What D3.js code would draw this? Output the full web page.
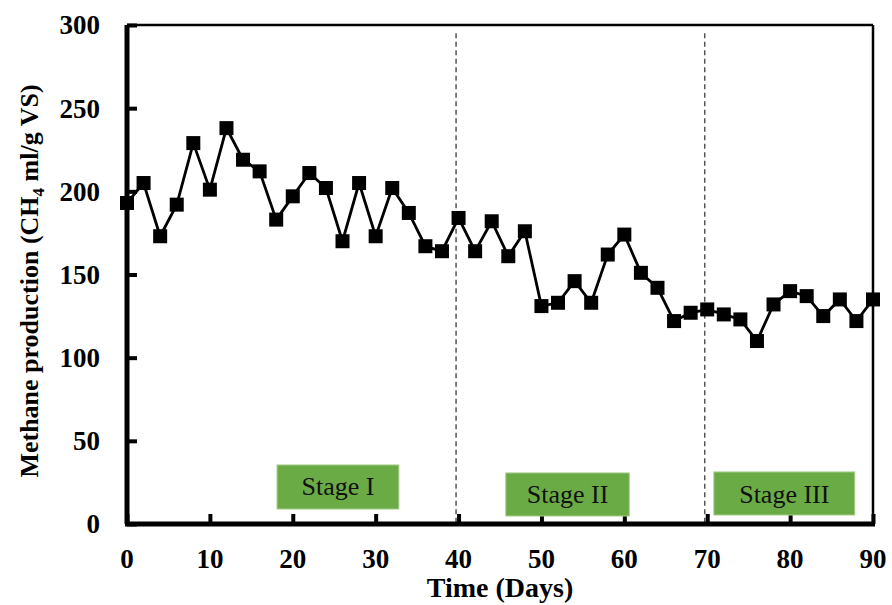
<!DOCTYPE html>
<html>
<head>
<meta charset="utf-8">
<script src="https://cdn.jsdelivr.net/npm/d3@7"></script>
<style>
  html, body { margin: 0; padding: 0; background: #fff; }
  svg { display: block; }
  text { font-family: "Liberation Serif", "Times New Roman", serif; }
</style>
</head>
<body>
<svg id="chart" width="892" height="605"></svg>
<script>
// ---- Data ----
const days = [0,2,4,6,8,10,12,14,16,18,20,22,24,26,28,30,32,34,36,38,40,42,44,46,48,50,52,54,56,58,60,62,64,66,68,70,72,74,76,78,80,82,84,86,88,90];
const methane = [193,205,173,192,229,201,238,219,212,183,197,211,202,170,205,173,202,187,167,164,184,164,182,161,176,131,133,146,133,162,174,151,142,122,127,129,126,123,110,132,140,137,125,135,122,135];
const xTicks = [0,10,20,30,40,50,60,70,80,90];
const yTicks = [0,50,100,150,200,250,300];
const stageNames = ["Stage I", "Stage II", "Stage III"];
const stageBoundaries = [39.7, 69.7];

// ---- Layout ----
const svg = d3.select("#chart");
const x = d3.scaleLinear().domain([0, 90]).range([127, 873]);
const y = d3.scaleLinear().domain([0, 300]).range([524, 25]);
const font = '"Liberation Serif", "Times New Roman", serif';

// frame: top and right thin borders
svg.append("line").attr("x1", x(0)).attr("x2", x(90)).attr("y1", y(300)).attr("y2", y(300))
  .attr("stroke", "#000").attr("stroke-width", 2.5);
svg.append("line").attr("x1", x(90)).attr("x2", x(90)).attr("y1", y(300)).attr("y2", y(0))
  .attr("stroke", "#000").attr("stroke-width", 2.5);

// stage boundary dashed lines
svg.selectAll("line.stage").data(stageBoundaries).enter().append("line")
  .attr("class", "stage")
  .attr("x1", d => x(d)).attr("x2", d => x(d))
  .attr("y1", y(295)).attr("y2", y(0))
  .attr("stroke", "#555").attr("stroke-width", 1.5).attr("stroke-dasharray", "5,3.5");

// Y axis (ticks inward)
const yAxis = d3.axisRight(y).tickValues(yTicks).tickSize(10).tickFormat("");
const gy = svg.append("g").attr("transform", `translate(${x(0)},0)`).call(yAxis);
gy.select(".domain").attr("stroke", "#000").attr("stroke-width", 5).attr("d", `M0,${y(300)}V${y(0)}`);
gy.selectAll(".tick line").attr("stroke", "#000").attr("stroke-width", 4);

svg.selectAll("text.ylab").data(yTicks).enter().append("text")
  .attr("class", "ylab")
  .attr("x", 100).attr("y", d => y(d)).attr("dy", "0.35em")
  .attr("text-anchor", "end")
  .attr("font-size", 27).attr("font-weight", "bold")
  .text(d => d);

// X axis (ticks inward/up)
const xAxis = d3.axisTop(x).tickValues(xTicks).tickSize(10).tickFormat("");
const gx = svg.append("g").attr("transform", `translate(0,${y(0)})`).call(xAxis);
gx.select(".domain").attr("stroke", "#000").attr("stroke-width", 5).attr("d", `M${x(0)-2},0H${x(90)+2}`);
gx.selectAll(".tick line").attr("stroke", "#000").attr("stroke-width", 4);

svg.selectAll("text.xlab").data(xTicks).enter().append("text")
  .attr("class", "xlab")
  .attr("x", d => x(d)).attr("y", 568)
  .attr("text-anchor", "middle")
  .attr("font-size", 27).attr("font-weight", "bold")
  .text(d => d);

// Axis titles
svg.append("text").attr("x", (x(0) + x(90)) / 2 + 0).attr("y", 597)
  .attr("text-anchor", "middle").attr("font-size", 28).attr("font-weight", "bold")
  .text("Time (Days)");

const yt = svg.append("text")
  .attr("transform", "translate(38,281) rotate(-90)")
  .attr("text-anchor", "middle").attr("font-size", 26).attr("font-weight", "bold");
yt.append("tspan").text("Methane production (CH");
yt.append("tspan").attr("font-size", 17).attr("dy", 6).text("4");
yt.append("tspan").attr("dy", -6).text(" ml/g VS)");

// Stage label boxes (positions in data units)
const stageBoxes = [
  { x0: 18.1, x1: 32.8, y0: 9.0, y1: 35.5, ty: 17.3 },
  { x0: 45.7, x1: 60.6, y0: 4.8, y1: 30.7, ty: 12.6 },
  { x0: 70.8, x1: 87.8, y0: 5.4, y1: 31.3, ty: 12.6 }
];
const sb = svg.selectAll("g.stagebox").data(stageBoxes).enter().append("g").attr("class", "stagebox");
sb.append("rect")
  .attr("x", d => x(d.x0)).attr("y", d => y(d.y1))
  .attr("width", d => x(d.x1) - x(d.x0)).attr("height", d => y(d.y0) - y(d.y1))
  .attr("fill", "#6aab46").attr("stroke", "#a8d08d").attr("stroke-width", 1);
sb.append("text")
  .attr("x", d => (x(d.x0) + x(d.x1)) / 2).attr("y", d => y(d.ty))
  .attr("text-anchor", "middle").attr("font-size", 26).attr("fill", "#111")
  .text((d, i) => stageNames[i]);

// Line + markers
const pts = days.map((d, i) => [d, methane[i]]);
svg.append("path").datum(pts)
  .attr("fill", "none").attr("stroke", "#000").attr("stroke-width", 2.8)
  .attr("d", d3.line().x(d => x(d[0])).y(d => y(d[1])));

const ms = 14;
svg.selectAll("rect.mk").data(pts).enter().append("rect")
  .attr("class", "mk")
  .attr("x", d => x(d[0]) - ms / 2).attr("y", d => y(d[1]) - ms / 2)
  .attr("width", ms).attr("height", ms).attr("fill", "#000");
</script>
</body>
</html>
